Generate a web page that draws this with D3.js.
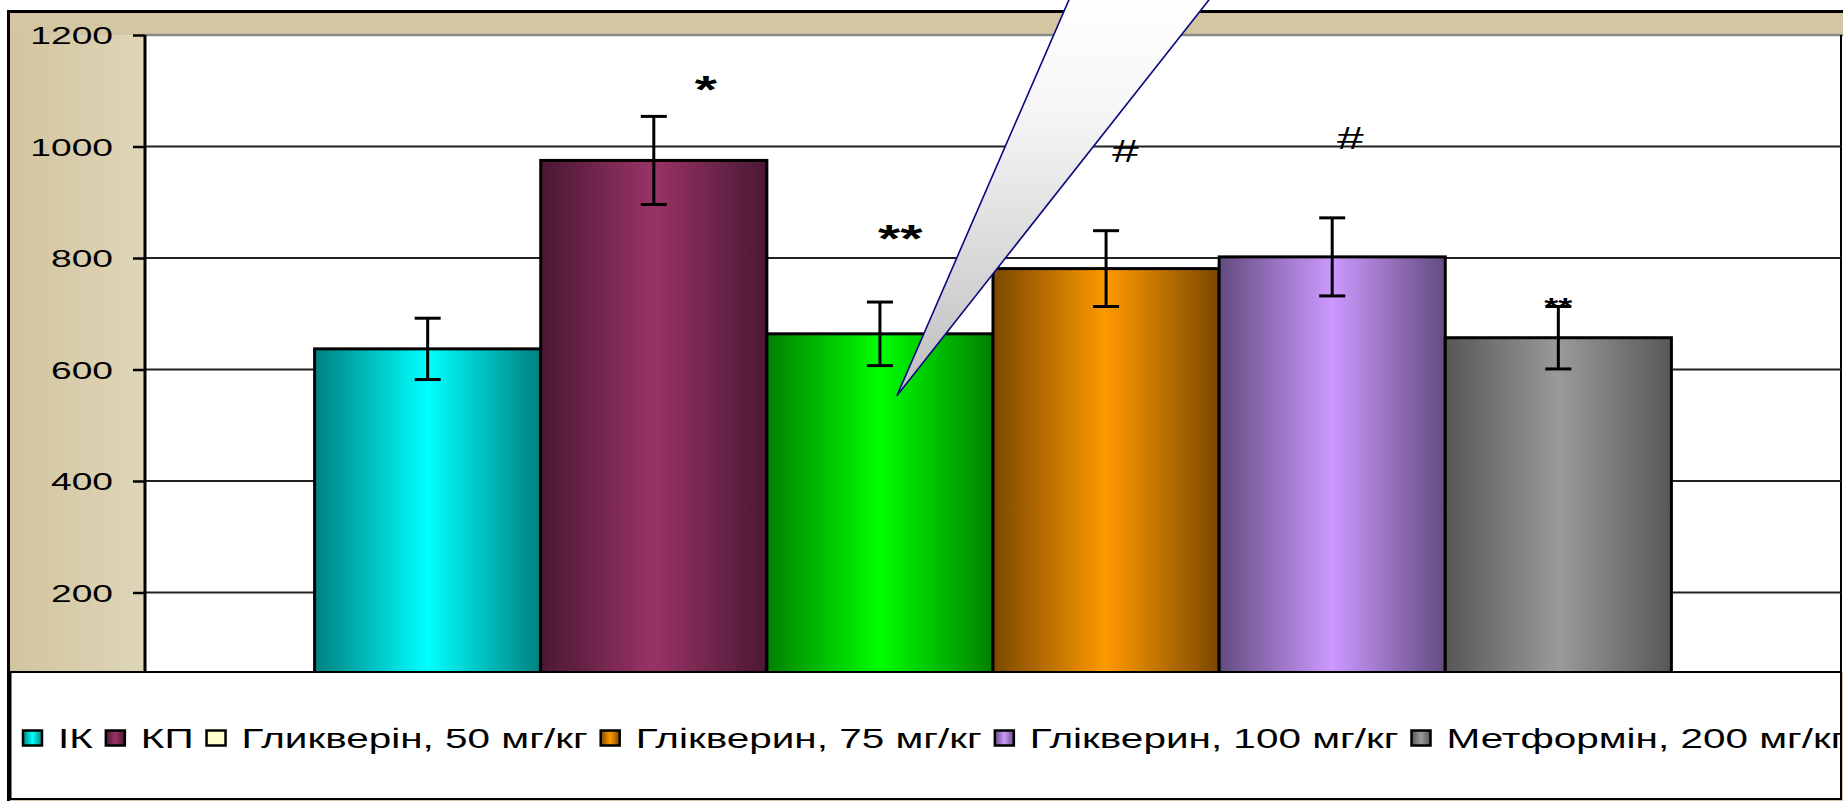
<!DOCTYPE html>
<html>
<head>
<meta charset="utf-8">
<title>Глікверин</title>
<script src="https://cdn.jsdelivr.net/npm/d3@7/dist/d3.min.js"></script>
<style>
  body { margin: 0; background: #fff; overflow: hidden; }
  svg { display: block; font-family: "Liberation Sans", Arial, sans-serif; }
</style>
</head>
<body>
<script>
// values
var series = ["ІК", "КП", "Гликверін, 50 мг/кг", "Глікверин, 75 мг/кг", "Глікверин, 100 мг/кг", "Метформін, 200 мг/кг"];
var values = [637, 975, 664, 781, 802, 657];
var errors = [55, 79, 57, 68, 70, 56];
var marks = ["", "*", "**", "#", "#", "**"];
var markLevels = [0, 1115, 848, 993, 1016, 722];
var markShift = [0, 0.23, 0.09, 0.085, 0.08, 0];
var yTicks = [200, 400, 600, 800, 1000];
var yMax = 1200;

// [edge, centre] colours of the bar gradients
var barColors = [["#008080", "#00ffff"], ["#4a1834", "#993366"], ["#008000", "#00ff00"],
                 ["#7a4800", "#ff9900"], ["#634c80", "#cc99ff"], ["#575757", "#9a9a9a"]];
var legendColors = [["#008080", "#00ffff"], ["#4a1834", "#993366"], ["#ffffcc", "#ffffcc"],
                    ["#7a4800", "#ff9900"], ["#634c80", "#cc99ff"], ["#575757", "#9a9a9a"]];

var W = 1843, H = 801;
var plot = {left: 145, right: 1841, top: 35, bottom: 672};
var zeroY = 704;
var sx = 1.5; // the original is stretched sideways

var svg = d3.select("body").append("svg").attr("width", W).attr("height", H);
var defs = svg.append("defs");

function hGrad(id, c) {
  var g = defs.append("linearGradient").attr("id", id).attr("x1", 0).attr("x2", 1).attr("y1", 0).attr("y2", 0);
  g.append("stop").attr("offset", 0).attr("stop-color", c[0]);
  g.append("stop").attr("offset", 0.5).attr("stop-color", c[1]);
  g.append("stop").attr("offset", 1).attr("stop-color", c[0]);
}
barColors.forEach(function (c, i) { hGrad("bar" + i, c); });
legendColors.forEach(function (c, i) { hGrad("leg" + i, c); });

var side = defs.append("linearGradient").attr("id", "side").attr("x1", 0).attr("x2", 1);
side.append("stop").attr("offset", 0).attr("stop-color", "#d2c49e");
side.append("stop").attr("offset", 1).attr("stop-color", "#ded6b9");

var wedgeG = defs.append("linearGradient").attr("id", "wedge").attr("x1", 0).attr("x2", 0).attr("y1", 0).attr("y2", 1);
wedgeG.append("stop").attr("offset", 0).attr("stop-color", "#ffffff");
wedgeG.append("stop").attr("offset", 0.3).attr("stop-color", "#f6f6f6");
wedgeG.append("stop").attr("offset", 1).attr("stop-color", "#bdbdbd");

defs.append("clipPath").attr("id", "legclip").append("rect")
  .attr("x", 10).attr("y", plot.bottom).attr("width", plot.right - 10).attr("height", H - plot.bottom);

var y = d3.scaleLinear().domain([0, yMax]).range([zeroY, plot.top]);
var plotW = plot.right - plot.left;
var bw = plotW / 7.5;
var x = d3.scaleBand().domain(series)
  .range([plot.left + bw * 0.75, plot.right - bw * 0.75]);

// chart area
svg.append("rect").attr("x", 8.5).attr("y", 11.5).attr("width", W).attr("height", H)
  .attr("fill", "#d4c6a2").attr("stroke", "#000").attr("stroke-width", 3);
svg.append("rect").attr("x", 10).attr("y", plot.top).attr("width", plot.left - 10)
  .attr("height", plot.bottom - plot.top).attr("fill", "url(#side)");

// plot area
svg.append("rect").attr("x", plot.left).attr("y", plot.top).attr("width", W - plot.left)
  .attr("height", plot.bottom - plot.top).attr("fill", "#fff");
svg.append("line").attr("x1", plot.left).attr("x2", W).attr("y1", plot.top).attr("y2", plot.top)
  .attr("stroke", "#888").attr("stroke-width", 2.5);
svg.append("line").attr("x1", plot.right).attr("x2", plot.right).attr("y1", plot.top).attr("y2", plot.bottom)
  .attr("stroke", "#000").attr("stroke-width", 2);

svg.append("g").selectAll("line").data(yTicks).enter().append("line")
  .attr("x1", plot.left).attr("x2", plot.right)
  .attr("y1", function (d) { return y(d); }).attr("y2", function (d) { return y(d); })
  .attr("stroke", "#222").attr("stroke-width", 2);

// bars
var bars = svg.append("g").selectAll("g").data(series).enter().append("g");
bars.append("rect")
  .attr("x", function (d) { return x(d); })
  .attr("y", function (d, i) { return y(values[i]); })
  .attr("width", x.bandwidth())
  .attr("height", function (d, i) { return y(0) - y(values[i]); })
  .attr("fill", function (d, i) { return "url(#bar" + i + ")"; })
  .attr("stroke", "#000").attr("stroke-width", 3);

// error bars
var cap = 13;
bars.each(function (d, i) {
  var g = d3.select(this), cx = x(d) + x.bandwidth() / 2;
  var hi = y(values[i] + errors[i]), lo = y(values[i] - errors[i]);
  g.append("line").attr("x1", cx).attr("x2", cx).attr("y1", hi).attr("y2", lo);
  g.append("line").attr("x1", cx - cap).attr("x2", cx + cap).attr("y1", hi).attr("y2", hi);
  g.append("line").attr("x1", cx - cap).attr("x2", cx + cap).attr("y1", lo).attr("y2", lo);
  g.selectAll("line").attr("stroke", "#000").attr("stroke-width", 3);
});

// y axis
var axis = svg.append("g").attr("transform", "translate(" + plot.left + ",0)")
  .call(d3.axisLeft(y).tickValues(yTicks.concat([yMax])).tickFormat(d3.format("d"))
    .tickSize(12).tickSizeOuter(0));
axis.select(".domain").remove();
axis.append("line").attr("x1", 0).attr("x2", 0).attr("y1", plot.top).attr("y2", plot.bottom)
  .attr("stroke", "#000").attr("stroke-width", 3);
axis.selectAll(".tick line").attr("stroke", "#000").attr("stroke-width", 2.5);
axis.selectAll(".tick text")
  .attr("x", -32 / 1.55).attr("dy", "0.36em")
  .attr("transform", "scale(1.55,1)")
  .attr("font-family", "'Liberation Sans', Arial, sans-serif")
  .attr("font-size", 24).attr("fill", "#000");

// significance marks
bars.each(function (d, i) {
  if (!marks[i]) return;
  var star = marks[i].indexOf("*") >= 0;
  var fs = star ? (i === 5 ? 24 : 38) : 32;
  var cx = x(d) + x.bandwidth() * (0.5 + markShift[i]);
  var cy = y(markLevels[i]) + (star ? 0.55 : 0.36) * fs;
  d3.select(this).append("text")
    .attr("transform", "translate(" + cx + "," + cy + ") scale(" + (star ? 1.5 : sx) + ",1)")
    .attr("text-anchor", "middle")
    .attr("font-size", fs).attr("font-weight", star ? "bold" : "normal")
    .text(marks[i]);
});

// callout tail pointing at the third bar
var tipX = x(series[2]) + x.bandwidth() * 0.575, tipY = y(553);
var k = (tipY + 10) / tipY;
svg.append("path")
  .attr("d", "M" + tipX + "," + tipY +
        "L" + (tipX + 172 * k) + "," + -10 +
        "L" + (tipX + 312 * k) + "," + -10 + "Z")
  .attr("fill", "url(#wedge)").attr("stroke", "#0a0a80").attr("stroke-width", 1.6);

// legend
svg.append("rect").attr("x", 10.5).attr("y", plot.bottom).attr("width", plot.right - 10.5)
  .attr("height", H - 2 - plot.bottom).attr("fill", "#fff").attr("stroke", "#000").attr("stroke-width", 2);
svg.append("line").attr("x1", 8.5).attr("x2", 8.5).attr("y1", 11).attr("y2", H)
  .attr("stroke", "#000").attr("stroke-width", 3);

var legend = svg.append("g").attr("clip-path", "url(#legclip)");
var lx = 23, ly = 738, sw = 19, sh = 15, lsx = 1.5;
series.forEach(function (s, i) {
  legend.append("rect").attr("x", lx).attr("y", ly - sh / 2).attr("width", sw).attr("height", sh)
    .attr("fill", "url(#leg" + i + ")").attr("stroke", "#000").attr("stroke-width", 2.5);
  lx += sw + 16;
  var t = legend.append("text")
    .attr("transform", "translate(" + lx + "," + ly + ") scale(" + lsx + ",1)")
    .attr("dy", "0.36em").attr("font-size", 27).attr("fill", "#000").text(s);
  lx += t.node().getComputedTextLength() * lsx + 13;
});
</script>
</body>
</html>
